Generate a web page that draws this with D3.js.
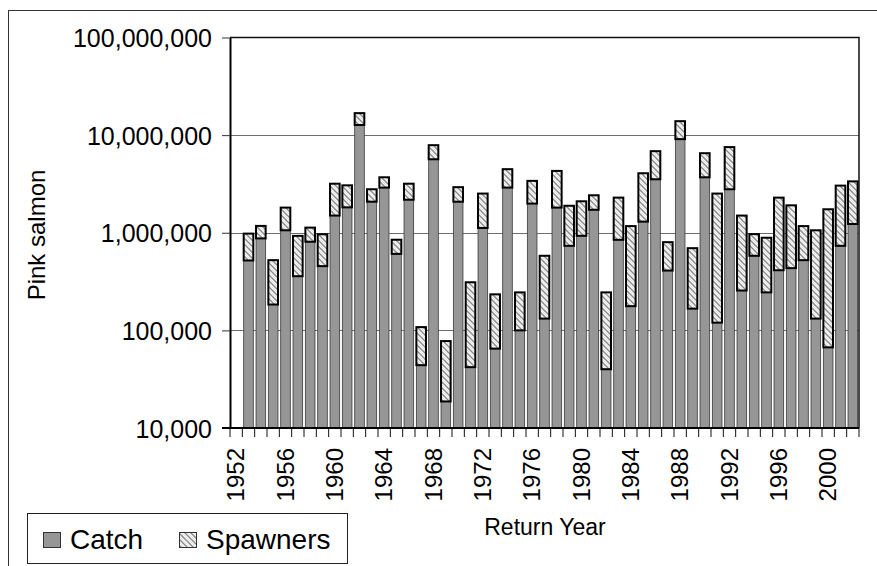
<!DOCTYPE html>
<html>
<head>
<meta charset="utf-8">
<script src="https://cdn.jsdelivr.net/npm/d3@7"></script>
<style>
  html, body { margin: 0; padding: 0; background: #fff; }
  svg { display: block; font-family: "Liberation Sans", Arial, sans-serif; }
</style>
</head>
<body>
<svg id="chart" width="877" height="566"></svg>
<script>
// Pink salmon returns by year: catch and spawners (stacked, log axis)
const categories = [1952,1953,1954,1955,1956,1957,1958,1959,1960,1961,1962,1963,1964,1965,1966,1967,1968,1969,1970,1971,1972,1973,1974,1975,1976,1977,1978,1979,1980,1981,1982,1983,1984,1985,1986,1987,1988,1989,1990,1991,1992,1993,1994,1995,1996,1997,1998,1999,2000,2001,2002];
const years = [1953,1954,1955,1956,1957,1958,1959,1960,1961,1962,1963,1964,1965,1966,1967,1968,1969,1970,1971,1972,1973,1974,1975,1976,1977,1978,1979,1980,1981,1982,1983,1984,1985,1986,1987,1988,1989,1990,1991,1992,1993,1994,1995,1996,1997,1998,1999,2000,2001,2002];
const catchValues = [520000,875000,184000,1060000,359000,809000,455000,1500000,1820000,12700000,2080000,2900000,608000,2180000,44000,5660000,18700,2080000,42000,1120000,65000,2900000,100000,1990000,132000,1810000,735000,931000,1720000,40000,847000,177000,1300000,3530000,410000,9100000,167000,3700000,120000,2790000,256000,581000,245000,413000,434000,524000,132000,67000,735000,1230000];
const spawnerValues = [460000,300000,340000,750000,570000,320000,510000,1680000,1240000,4100000,710000,800000,240000,1000000,64000,2230000,59000,850000,269000,1400000,169000,1580000,145000,1410000,449000,2490000,1155000,1169000,700000,205000,1443000,993000,2770000,3320000,391000,4800000,528000,2830000,2400000,4750000,1244000,387000,644000,1877000,1476000,646000,928000,1673000,2305000,2130000];
const yTickValues = [10000, 100000, 1000000, 10000000, 100000000];
const xTickLabels = ["1952","1956","1960","1964","1968","1972","1976","1980","1984","1988","1992","1996","2000"];
const seriesNames = ["Catch", "Spawners"];

const svg = d3.select("#chart");
const W = 877, H = 566;
const x0 = 230, x1 = 859, y0 = 37.5, y1 = 428;

const x = d3.scaleBand().domain(categories).range([x0, x1]).paddingInner(0.22).paddingOuter(0.11);
const y = d3.scaleLog().domain([10000, 100000000]).range([y1, y0]);

// hatch pattern for spawners
const defs = svg.append("defs");
const pat = defs.append("pattern").attr("id", "hatch")
  .attr("patternUnits", "userSpaceOnUse").attr("width", 6).attr("height", 6);
pat.append("rect").attr("width", 6).attr("height", 6).attr("fill", "#fbfbfb");
pat.append("path").attr("d", "M-1,-1 L7,7 M5,-1 L7,1 M-1,5 L1,7")
  .attr("stroke", "#8c8c8c").attr("stroke-width", 1.5);
pat.append("path").attr("d", "M3,0 L6,3 M0,3 L3,6")
  .attr("stroke", "#d2d2d2").attr("stroke-width", 0.7);

// outer chart frame
svg.append("rect").attr("x", 8.5).attr("y", 10.5).attr("width", 900).attr("height", 600)
  .attr("fill", "none").attr("stroke", "#333").attr("stroke-width", 1);

// gridlines
svg.append("g").selectAll("line").data([100000, 1000000, 10000000]).join("line")
  .attr("x1", x0).attr("x2", x1)
  .attr("y1", d => Math.round(y(d)) + 0.5).attr("y2", d => Math.round(y(d)) + 0.5)
  .attr("stroke", "#6e6e6e").attr("stroke-width", 1);

// plot frame (top and right)
svg.append("path")
  .attr("d", `M${x0},${y0} L${x1},${y0} L${x1},${y1}`)
  .attr("fill", "none").attr("stroke", "#111").attr("stroke-width", 1.5);

// bars
const bars = svg.append("g");
years.forEach((yr, i) => {
  const c = catchValues[i];
  bars.append("rect")
    .attr("x", x(yr)).attr("width", x.bandwidth())
    .attr("y", y(c)).attr("height", y(10000) - y(c))
    .attr("fill", "#969696").attr("stroke", "#3a3a3a").attr("stroke-width", 0.8);
});
years.forEach((yr, i) => {
  const c = catchValues[i], s = spawnerValues[i];
  bars.append("rect")
    .attr("x", x(yr)).attr("width", x.bandwidth())
    .attr("y", y(c + s)).attr("height", y(c) - y(c + s))
    .attr("fill", "url(#hatch)").attr("stroke", "#000").attr("stroke-width", 2);
});

// y axis
const yAxis = d3.axisLeft(y).tickValues(yTickValues).tickSize(8).tickSizeOuter(0)
  .tickFormat(d3.format(","));
const gy = svg.append("g").attr("transform", `translate(${x0},0)`).call(yAxis);
gy.select(".domain").attr("stroke", "#000").attr("stroke-width", 2);
gy.selectAll(".tick line").attr("stroke", "#333").attr("stroke-width", 1);
gy.selectAll(".tick text").attr("x", -18).attr("dy", "0.36em")
  .attr("font-size", 25).attr("fill", "#000")
  .attr("font-family", "Liberation Sans, Arial, sans-serif");

// x axis: ticks at category boundaries
const step = x.step();
const boundaries = d3.range(categories.length + 1).map(k => x0 + k * step);
svg.append("g").selectAll("line").data(boundaries).join("line")
  .attr("x1", d => d).attr("x2", d => d).attr("y1", y1).attr("y2", y1 + 9)
  .attr("stroke", "#111").attr("stroke-width", 1);
svg.append("line").attr("x1", x0 - 8).attr("x2", x1).attr("y1", y1).attr("y2", y1)
  .attr("stroke", "#000").attr("stroke-width", 2);

svg.append("g").selectAll("text").data(xTickLabels).join("text")
  .attr("transform", d => `translate(${x(+d) + x.bandwidth() / 2 + 8},448) rotate(-90)`)
  .attr("text-anchor", "end")
  .attr("font-size", 24).attr("fill", "#000")
  .text(d => d);

// axis titles
svg.append("text").attr("x", 545).attr("y", 535).attr("text-anchor", "middle")
  .attr("font-size", 23).attr("fill", "#000").text("Return Year");
svg.append("text").attr("transform", "translate(45,235) rotate(-90)")
  .attr("text-anchor", "middle").attr("font-size", 24).attr("fill", "#000").text("Pink salmon");

// legend
const lg = svg.append("g");
lg.append("rect").attr("x", 27.5).attr("y", 513.5).attr("width", 320).attr("height", 50)
  .attr("fill", "#fff").attr("stroke", "#222").attr("stroke-width", 1);
const legendItems = [
  {name: seriesNames[0], fill: "#969696", sx: 43, tx: 70},
  {name: seriesNames[1], fill: "url(#hatch)", sx: 179, tx: 206}
];
legendItems.forEach(it => {
  lg.append("rect").attr("x", it.sx + 0.5).attr("y", 532.5).attr("width", 17).attr("height", 15)
    .attr("fill", it.fill).attr("stroke", "#333").attr("stroke-width", 1);
  lg.append("text").attr("x", it.tx).attr("y", 549).attr("font-size", 28).attr("fill", "#000").text(it.name);
});
</script>
</body>
</html>
